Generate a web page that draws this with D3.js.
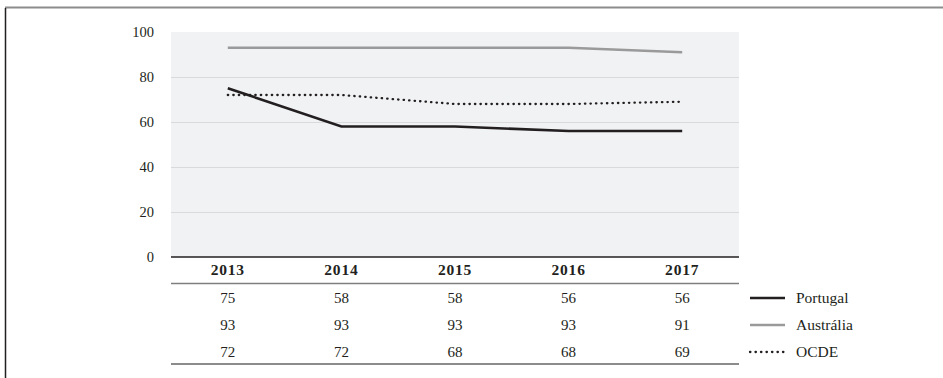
<!DOCTYPE html>
<html>
<head>
<meta charset="utf-8">
<script src="https://cdn.jsdelivr.net/npm/d3@7/dist/d3.min.js"></script>
<style>
  html, body { margin: 0; padding: 0; background: #fff; }
  svg { display: block; font-family: "Liberation Serif", "DejaVu Serif", serif; }
</style>
</head>
<body>
<svg id="chart" width="943" height="378"></svg>
<script>
// Anos e séries
const years = ["2013", "2014", "2015", "2016", "2017"];
const portugal = [75, 58, 58, 56, 56];
const australia = [93, 93, 93, 93, 91];
const ocde = [72, 72, 68, 68, 69];
const yTicks = [0, 20, 40, 60, 80, 100];

const series = [
  { name: "Portugal", values: portugal, color: "#231f20", width: 2.6, dash: null },
  { name: "Austrália", values: australia, color: "#9a9a9a", width: 2.6, dash: null },
  { name: "OCDE", values: ocde, color: "#231f20", width: 2.3, dash: "0.4,5.1" }
];

const svg = d3.select("#chart");

// Moldura
svg.append("line").attr("x1", 5).attr("x2", 943).attr("y1", 7.5).attr("y2", 7.5)
  .attr("stroke", "#8c8c8c").attr("stroke-width", 2);
svg.append("line").attr("x1", 5.5).attr("x2", 5.5).attr("y1", 8).attr("y2", 378)
  .attr("stroke", "#231f20").attr("stroke-width", 1.5);

const plotLeft = 171, plotRight = 739, plotTop = 32, plotBottom = 257;

const x = d3.scaleBand().domain(years).range([plotLeft, plotRight]);
const y = d3.scaleLinear().domain([0, 100]).range([plotBottom, plotTop]);

// Fundo da área do gráfico
svg.append("rect").attr("x", plotLeft).attr("y", plotTop)
  .attr("width", plotRight - plotLeft).attr("height", plotBottom - plotTop)
  .attr("fill", "#f1f2f4");

// Linhas de grelha e valores do eixo
const yAxis = d3.axisLeft(y).tickValues(yTicks).tickSize(-(plotRight - plotLeft)).tickPadding(17);
const gy = svg.append("g").attr("transform", `translate(${plotLeft},0)`).call(yAxis);
gy.select(".domain").remove();
gy.selectAll(".tick line")
  .attr("stroke", d => (d === 0 || d === 100) ? "none" : "#d9dadc")
  .attr("stroke-width", 1.2);
gy.selectAll(".tick text")
  .attr("font-size", 14.5).attr("fill", "#231f20")
  .attr("font-family", "Liberation Serif, serif");

// Eixo zero
svg.append("line").attr("x1", plotLeft).attr("x2", plotRight)
  .attr("y1", y(0)).attr("y2", y(0))
  .attr("stroke", "#231f20").attr("stroke-width", 1.6);

// Séries
const line = d3.line()
  .x((d, i) => x(years[i]) + x.bandwidth() / 2)
  .y(d => y(d));

series.forEach(s => {
  svg.append("path")
    .datum(s.values)
    .attr("d", line)
    .attr("fill", "none")
    .attr("stroke", s.color)
    .attr("stroke-width", s.width)
    .attr("stroke-dasharray", s.dash)
    .attr("stroke-linecap", s.dash ? "round" : "butt");
});

// Tabela de dados
const xc = d => x(d) + x.bandwidth() / 2;
svg.selectAll("text.year").data(years).enter().append("text")
  .attr("class", "year")
  .attr("x", xc).attr("y", 275)
  .attr("text-anchor", "middle")
  .attr("font-size", 15.5).attr("font-weight", "bold")
  .attr("letter-spacing", 0.8)
  .attr("fill", "#231f20")
  .text(d => d);

svg.append("line").attr("x1", plotLeft).attr("x2", plotRight).attr("y1", 283.5).attr("y2", 283.5)
  .attr("stroke", "#7f7f7f").attr("stroke-width", 1.4);
svg.append("line").attr("x1", plotLeft).attr("x2", plotRight).attr("y1", 364).attr("y2", 364)
  .attr("stroke", "#8c8c8c").attr("stroke-width", 2);

const rowY = [298, 325, 352];
series.forEach((s, r) => {
  svg.selectAll(null).data(s.values).enter().append("text")
    .attr("x", (d, i) => xc(years[i]))
    .attr("y", rowY[r] + 5)
    .attr("text-anchor", "middle")
    .attr("font-size", 15)
    .attr("fill", "#231f20")
    .text(d => d);

  // Legenda
  svg.append("line")
    .attr("x1", 750).attr("x2", 785)
    .attr("y1", rowY[r]).attr("y2", rowY[r])
    .attr("stroke", s.color)
    .attr("stroke-width", s.width)
    .attr("stroke-dasharray", s.dash)
    .attr("stroke-linecap", s.dash ? "round" : "butt");
  svg.append("text")
    .attr("x", 796).attr("y", rowY[r] + 5)
    .attr("font-size", 15.5)
    .attr("fill", "#231f20")
    .text(s.name);
});
</script>
</body>
</html>
